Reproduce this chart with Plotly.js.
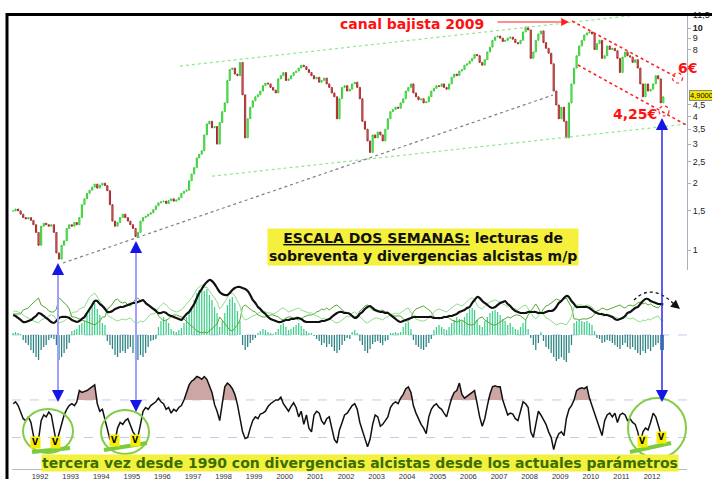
<!DOCTYPE html>
<html><head><meta charset="utf-8">
<script src="https://cdn.plot.ly/plotly-3.0.1.min.js"></script>
<style>html,body{margin:0;padding:0;background:#fff}#chart{width:712px;height:479px}</style>
</head><body><div id="chart"></div>
<script>
// ---- data (monthly, starting Feb 1991) ----
const startYear = 1991, startMonth = 2;
const closePrice = [
 1.50,1.53,1.50,1.45,1.40,1.38,1.40,1.36,1.30,1.20,1.05,
 1.28,1.32,1.30,1.28,1.30,1.20,0.97,0.91,1.05,1.10,1.25,1.30,
 1.28,1.33,1.30,1.40,1.60,1.70,1.80,1.86,1.92,1.98,1.90,1.96,
 2.00,1.95,1.85,1.60,1.35,1.28,1.33,1.40,1.45,1.40,1.35,1.30,
 1.25,1.15,1.20,1.35,1.40,1.42,1.45,1.47,1.52,1.58,1.63,1.65,
 1.66,1.62,1.67,1.70,1.66,1.68,1.72,1.80,1.84,1.86,2.05,2.20,
 2.35,2.60,2.70,2.80,3.30,3.70,3.80,3.55,3.60,3.00,3.75,4.20,
 4.60,5.80,6.50,6.60,6.20,6.10,7.00,5.00,3.20,3.90,4.40,4.70,
 4.90,5.00,5.20,5.50,5.65,5.60,5.40,5.25,5.10,5.90,6.10,6.30,
 5.80,5.90,6.10,6.30,6.40,6.60,6.80,6.70,6.50,6.30,6.10,5.90,
 6.00,5.70,5.80,5.95,5.60,5.40,5.10,4.90,3.90,4.80,5.40,5.50,
 5.20,5.30,5.60,5.70,5.40,4.80,3.80,3.50,3.10,2.75,3.30,3.20,
 3.40,3.30,3.10,3.50,3.90,4.20,4.30,4.40,4.35,4.60,4.80,5.20,
 5.40,5.60,5.10,4.90,4.75,4.80,4.60,4.65,4.90,5.20,5.35,5.50,
 5.45,5.60,5.40,5.30,5.60,6.00,6.20,6.10,6.40,6.50,6.80,6.90,
 7.10,7.30,7.60,7.50,7.00,6.80,7.20,7.80,8.20,8.80,9.10,9.20,
 9.00,8.70,8.80,9.00,9.10,8.90,8.60,8.50,8.80,9.60,10.10,9.80,
 7.30,7.80,8.80,9.40,9.70,8.60,8.10,7.70,6.90,5.20,4.50,3.90,
 4.40,3.80,3.20,4.60,5.60,6.60,7.50,8.30,8.80,9.30,9.50,9.60,
 9.40,8.00,8.50,8.80,7.30,7.50,8.30,8.00,8.10,7.90,7.30,6.30,
 7.40,7.80,7.50,7.40,7.00,7.20,6.60,5.60,4.90,5.60,5.20,5.30,
 5.60,6.10,5.90,4.60,4.90
];
const adx = [
 20,19,17,15,13,13,14,15,17,19,22,
 21,19,17,15,13,12,14,17,18,18,18,17,
 15,14,13,14,16,18,22,26,30,34,34,31,
 29,26,23,23,24,26,27,28,28,29,30,31,
 32,32,33,34,35,32,30,28,26,24,22,22,
 23,22,20,19,18,17,16,15,18,21,23,27,
 31,37,42,46,50,53,55,54,51,47,43,41,
 40,40,42,45,47,48,48,47,46,44,40,35,
 32,28,26,23,21,18,16,15,14,13,13,14,
 15,15,16,16,17,17,16,14,13,13,13,13,
 13,13,14,14,15,16,18,20,22,23,23,22,
 22,21,19,17,18,21,23,26,28,29,27,25,
 24,23,23,22,22,20,18,16,14,13,14,15,
 16,17,18,18,18,18,18,18,18,18,17,17,
 17,17,18,18,19,19,20,21,23,24,25,27,
 28,32,35,38,37,34,32,30,28,27,28,30,
 32,33,34,31,29,26,24,23,22,22,22,23,
 23,23,23,22,22,22,23,24,24,25,28,32,
 34,37,39,38,34,31,28,28,28,28,28,27,
 25,23,22,21,21,20,20,19,18,16,15,16,
 17,19,22,23,25,27,28,31,34,36,36,34,
 33,32,31,31,31
];
const diPlus = [
 23,24,23,22,20,18,17,15,14,13,12,
 15,16,17,19,20,19,16,12,13,14,16,18,
 22,23,23,26,27,28,33,38,40,42,38,34,
 30,28,20,18,17,15,14,15,16,15,16,17,
 14,12,12,14,13,15,18,21,21,22,27,30,
 32,30,28,25,24,23,24,25,28,31,33,37,
 41,46,48,50,47,48,44,41,37,33,26,29,
 33,38,41,42,39,34,29,18,15,16,18,19,
 20,22,23,24,23,22,22,21,22,24,26,27,
 25,23,24,25,26,27,25,24,23,22,22,20,
 19,18,16,17,15,16,15,13,12,13,15,17,
 19,18,22,23,21,18,16,13,12,14,16,17,
 17,16,15,17,18,21,21,22,21,22,24,26,
 27,23,18,16,15,14,14,15,17,19,23,25,
 26,25,24,23,25,27,29,31,30,29,31,33,
 36,37,36,30,27,26,29,31,33,34,35,34,
 33,31,30,28,29,27,26,25,27,29,30,26,
 21,18,16,19,24,20,17,16,14,12,10,11,
 12,11,10,14,18,28,30,30,30,29,30,29,
 28,25,21,21,19,19,20,20,19,18,17,16,
 18,19,17,16,17,15,14,13,15,14,16,15,
 17,18,19,15,14
];
const diMinus = [
 21,21,21,21,25,26,27,30,32,35,37,
 30,28,27,24,23,23,26,37,35,32,30,26,
 18,18,17,16,15,14,13,12,11,10,12,14,
 18,18,26,28,31,35,36,33,32,33,30,29,
 32,36,37,34,35,33,30,27,26,26,19,16,
 14,15,16,19,20,20,19,18,16,13,11,9,
 6,4,3,2,3,2,4,6,9,11,18,15,
 11,8,5,4,7,10,15,28,30,28,26,24,
 23,20,19,18,18,19,20,20,19,18,16,15,
 17,18,18,17,16,15,16,18,19,20,20,21,
 23,24,26,25,27,25,27,29,30,28,25,23,
 22,22,19,18,19,24,26,29,30,28,25,24,
 23,24,25,23,23,19,19,19,19,19,16,14,
 14,17,23,26,27,28,29,27,25,23,18,17,
 16,17,18,18,17,15,14,13,14,15,13,11,
 10,10,11,15,17,18,15,13,11,10,10,11,
 13,15,16,18,17,19,20,20,19,17,15,20,
 24,28,31,27,21,26,29,30,32,34,36,35,
 34,36,37,32,28,16,16,15,16,16,16,17,
 18,21,24,25,27,26,25,26,27,28,29,30,
 28,27,29,30,29,30,32,33,31,32,30,31,
 29,28,27,30,29
];
const histogram = [
 2,3,2,1,-5,-8,-10,-15,-18,-22,-25,
 -15,-12,-10,-5,-3,-4,-10,-25,-22,-18,-14,-8,
 4,5,6,10,12,14,20,26,29,32,26,20,
 12,10,-6,-10,-14,-20,-22,-18,-16,-18,-14,-12,
 -18,-24,-25,-20,-22,-18,-12,-6,-5,-4,8,14,
 18,15,12,6,4,3,5,7,12,18,22,28,
 35,42,45,48,44,46,40,35,28,22,8,14,
 22,30,36,38,32,24,14,-10,-15,-12,-8,-5,
 -3,2,4,6,5,3,2,1,3,6,10,12,
 8,5,6,8,10,12,9,6,4,2,2,-1,
 -4,-6,-10,-8,-12,-9,-12,-16,-18,-15,-10,-6,
 -3,-4,3,5,2,-6,-10,-16,-18,-14,-9,-7,
 -6,-8,-10,-6,-5,2,2,3,2,3,8,12,
 13,6,-5,-10,-12,-14,-15,-12,-8,-4,5,8,
 10,8,6,5,8,12,15,18,16,14,18,22,
 26,27,25,15,10,8,14,18,22,24,25,23,
 20,16,14,10,12,8,6,5,8,12,15,6,
 -3,-10,-15,-8,3,-6,-12,-14,-18,-22,-26,-24,
 -22,-25,-27,-18,-10,12,14,15,14,13,14,12,
 10,4,-3,-4,-8,-7,-5,-6,-8,-10,-12,-14,
 -10,-8,-12,-14,-12,-15,-18,-20,-16,-18,-14,-16,
 -12,-10,-8,-15,-15
];
const oscillator = [
 66,68,64,58,50,48,52,46,32,22,28,
 48,54,52,57,54,38,24,34,44,54,60,64,
 66,64,68,80,78,79,80,82,84,86,66,58,
 60,48,40,28,26,26,40,46,44,48,50,44,
 36,32,31,44,58,62,60,64,66,68,72,68,
 66,60,62,56,60,58,62,64,70,78,86,90,
 92,95,94,92,95,92,84,78,65,58,48,66,
 84,88,86,82,76,65,50,36,29,30,40,48,
 52,50,55,56,58,63,66,68,70,70,73,66,
 62,58,63,67,62,52,58,44,54,40,36,54,
 58,56,48,44,50,52,40,28,24,38,46,54,
 56,60,64,66,60,46,38,28,20,28,44,54,
 52,42,44,48,52,62,66,68,66,72,76,82,
 84,78,64,56,50,44,40,34,52,60,64,66,
 62,60,56,52,62,72,78,80,88,76,72,74,
 76,78,80,66,52,42,50,64,76,84,85,84,
 84,70,62,54,56,55,50,48,58,68,66,62,
 36,30,44,58,54,48,44,36,30,17,28,34,
 36,32,50,60,64,70,80,82,83,82,84,72,
 64,56,48,42,32,48,54,56,52,56,46,54,
 56,54,48,50,46,44,36,24,36,40,38,46,
 56,52,42,34,31
];
const oscUpper = 70, oscLower = 30;
const priceTickVals = [1,1.5,2,2.5,3,3.5,4,4.5,8,9,10,11.5];
const priceTickText = ['1','1,5','2','2,5','3','3,5','4','4,5','8','9','<b>10</b>','11,5'];
const yearTicks = ['1992','1993','1994','1995','1996','1997','1998','1999','2000','2001','2002',
                   '2003','2004','2005','2006','2007','2008','2009','2010','2011','2012'];
const lastPriceLabel = '4,9000';
// trend lines [date, price]
const greenUpperX = ['1996-07-29','2011-10-19'], greenUpperY = [6.74, 11.56];
const greenLowerX = ['1997-08-15','2013-02-10'], greenLowerY = [2.15, 3.69];
const grayLineX = ['1992-10-02','2008-10-07'], grayLineY = [0.874, 4.99];
const redUpperX = ['2009-05-22','2012-11-06'], redUpperY = [10.75, 5.95];
const redLowerX = ['2009-07-31','2013-02-10'], redLowerY = [6.81, 3.66];

// ---- derived ----
const dates = closePrice.map((_, i) => {
  const m = startMonth - 1 + i;
  const y = startYear + Math.floor(m / 12);
  return y + '-' + String(m % 12 + 1).padStart(2, '0') + '-15';
});
const openPrice = closePrice.map((c, i) => i ? closePrice[i - 1] : c);
const highPrice = closePrice.map((c, i) => Math.max(c, openPrice[i]));
const lowPrice = closePrice.map((c, i) => Math.min(c, openPrice[i]));

const fx = p => (p - 12) / 675;
const fy = p => (469 - p) / 456;

const traces = [];
traces.push({type:'candlestick', x:dates, open:openPrice, high:highPrice, low:lowPrice, close:closePrice,
  xaxis:'x', yaxis:'y', whiskerwidth:0, hoverinfo:'skip',
  increasing:{line:{color:'#3ccf3c', width:1}, fillcolor:'#8fe68f'},
  decreasing:{line:{color:'#a82a2a', width:1}, fillcolor:'#d8a0a0'}});
function tl(x, y, color, dash, w){ traces.push({type:'scatter', mode:'lines', x:x, y:y, yaxis:'y', hoverinfo:'skip', line:{color:color, dash:dash, width:w}}); }
tl(greenUpperX, greenUpperY, '#8ee88e', 'dot', 1.2);
tl(greenLowerX, greenLowerY, '#8ee88e', 'dot', 1.2);
tl(grayLineX, grayLineY, '#808080', 'dot', 1.2);
tl(redUpperX, redUpperY, '#ff2222', 'dot', 1.6);
tl(redLowerX, redLowerY, '#ff2222', 'dot', 1.6);

traces.push({type:'bar', x:dates, y:histogram, yaxis:'y2', hoverinfo:'skip', width:15*86400000,
  marker:{color:histogram.map(v => v >= 0 ? '#3fcf8a' : '#2b8383'), line:{width:0}}});
traces.push({type:'scatter', mode:'lines', x:dates, y:diMinus, yaxis:'y2', hoverinfo:'skip', line:{color:'#55a832', width:1}});
traces.push({type:'scatter', mode:'lines', x:dates, y:diPlus, yaxis:'y2', hoverinfo:'skip', line:{color:'#8fdc8f', width:1}});
traces.push({type:'scatter', mode:'lines', x:dates, y:adx, yaxis:'y2', hoverinfo:'skip', line:{color:'#111', width:2.2, shape:'spline', smoothing:0.6}});

traces.push({type:'scatter', mode:'lines', x:dates, y:dates.map(() => oscUpper), yaxis:'y3', hoverinfo:'skip', line:{width:0, color:'rgba(0,0,0,0)'}});
traces.push({type:'scatter', mode:'lines', x:dates, y:oscillator.map(v => Math.max(v, oscUpper)), yaxis:'y3', hoverinfo:'skip', fill:'tonexty', fillcolor:'#cca5a5', line:{width:0, color:'rgba(0,0,0,0)'}});
traces.push({type:'scatter', mode:'lines', x:dates, y:oscillator, yaxis:'y3', hoverinfo:'skip', line:{color:'#111', width:1.5}});

const shapes = [
  {type:'line', xref:'paper', yref:'y2', x0:0, x1:1, y0:0, y1:0, layer:'below', line:{color:'#c3c8f0', width:1, dash:'dash'}},
  {type:'line', xref:'paper', yref:'y3', x0:0, x1:1, y0:oscUpper, y1:oscUpper, layer:'below', line:{color:'#c3c8f0', width:1, dash:'dash'}},
  {type:'line', xref:'paper', yref:'y3', x0:0, x1:1, y0:oscLower, y1:oscLower, layer:'below', line:{color:'#c3c8f0', width:1, dash:'dash'}},
  {type:'line', xref:'paper', yref:'paper', x0:fx(7), x1:fx(7), y0:fy(485), y1:fy(13), line:{color:'#000', width:3}},
  {type:'line', xref:'paper', yref:'paper', x0:fx(6), x1:fx(715), y0:fy(14.5), y1:fy(14.5), line:{color:'#000', width:3}},
  {type:'circle', xref:'paper', yref:'paper', x0:fx(23), x1:fx(73), y0:fy(453), y1:fy(409), line:{color:'#84cc46', width:2}},
  {type:'circle', xref:'paper', yref:'paper', x0:fx(101), x1:fx(149), y0:fy(454), y1:fy(410), line:{color:'#84cc46', width:2}},
  {type:'circle', xref:'paper', yref:'paper', x0:fx(628), x1:fx(686), y0:fy(458), y1:fy(398), line:{color:'#84cc46', width:2}},
  {type:'line', xref:'paper', yref:'paper', x0:fx(32), x1:fx(70), y0:fy(452), y1:fy(448), line:{color:'#7ccb3e', width:4}},
  {type:'line', xref:'paper', yref:'paper', x0:fx(104), x1:fx(147), y0:fy(450), y1:fy(443), line:{color:'#7ccb3e', width:4}},
  {type:'line', xref:'paper', yref:'paper', x0:fx(630), x1:fx(671), y0:fy(452), y1:fy(443), line:{color:'#7ccb3e', width:4}},
  {type:'circle', xref:'paper', yref:'paper', x0:fx(672.5), x1:fx(682.5), y0:fy(83), y1:fy(73), line:{color:'#ff2222', width:1.2, dash:'dot'}},
  {type:'circle', xref:'paper', yref:'paper', x0:fx(659), x1:fx(669), y0:fy(116), y1:fy(106), line:{color:'#ff2222', width:1.2, dash:'dot'}},
  {type:'path', xref:'paper', yref:'paper', path:'M '+fx(634)+','+fy(300)+' Q '+fx(652)+','+fy(282)+' '+fx(675)+','+fy(305), line:{color:'#111', width:1.3, dash:'dot'}}
];

const F = 'DejaVu Sans, Verdana, sans-serif';
const ann = [];
function txt(x, y, text, size, color, extra){
  ann.push(Object.assign({xref:'paper', yref:'paper', x:fx(x), y:fy(y), xanchor:'center', yanchor:'middle', text:text, showarrow:false, font:{family:F, size:size, color:color}}, extra || {}));
}
txt(412, 24, '<b>canal bajista 2009</b>', 14, '#ff1010');
txt(687, 68, '<b>6€</b>', 14, '#ff1010');
txt(635, 114, '<b>4,25€</b>', 14, '#ff1010');
ann.push({xref:'paper', yref:'paper', x:fx(689), y:fy(96), xanchor:'left', yanchor:'middle', text:lastPriceLabel, showarrow:false, font:{family:'Liberation Sans, Arial', size:7.5, color:'#000'}, bgcolor:'#f2e600', bordercolor:'#888', borderwidth:1, borderpad:0});
txt(423, 247.5, '<b><u>ESCALA DOS SEMANAS:</u> lecturas de<br>sobreventa y divergencias alcistas m/p</b>', 14, '#111', {bgcolor:'#f5f03c', borderpad:1});
txt(360, 462.5, '<b>tercera vez desde 1990 con divergencias alcistas desde los actuales parámetros</b>', 14, '#3a6e00', {bgcolor:'#f3f13e', borderpad:0});
// arrows
ann.push({xref:'paper', yref:'paper', x:fx(569), y:fy(22), ax:-73, ay:0, text:'', showarrow:true, arrowhead:2, arrowsize:1.3, arrowwidth:1.2, arrowcolor:'#ff2020'});
function vline(x, yTop, yBot, color, w){ ann.push({xref:'paper', yref:'paper', x:fx(x), y:fy(yBot), ax:0, ay:-(yBot-yTop), text:'', showarrow:true, arrowhead:0, arrowwidth:w, arrowcolor:color}); }
function head(x, y, dir){ ann.push({xref:'paper', yref:'paper', x:fx(x), y:fy(y), ax:0, ay:dir*10, text:'', showarrow:true, arrowhead:2, arrowsize:1.1, arrowwidth:2.2, arrowcolor:'#1515e6'}); }
vline(58, 268, 398, '#a0a0ff', 2); head(58, 263, 1); head(58, 402, -1);
vline(136, 246, 408, '#a0a0ff', 2); head(136, 241, 1); head(136, 412, -1);
vline(662, 123, 398, '#2a2af2', 1.5); head(662, 118, 1); head(662, 402, -1);
ann.push({xref:'paper', yref:'paper', x:fx(680), y:fy(309), ax:-6, ay:-5, text:'', showarrow:true, arrowhead:2, arrowsize:1.2, arrowwidth:1.5, arrowcolor:'#111'});
// V markers
[[35,442],[56,442],[114,440],[135,440],[642,441],[661,437]].forEach(p => {
  txt(p[0], p[1], '<b>V</b>', 8, '#000', {bgcolor:'#f5ee00', borderpad:1});
});

const layout = {
  width:712, height:479, margin:{l:12, r:25, t:13, b:10}, paper_bgcolor:'#fff', plot_bgcolor:'#fff',
  showlegend:false, hovermode:false,
  xaxis:{type:'date', range:['1991-02-01','2013-02-22'], rangeslider:{visible:false}, anchor:'y3',
    showgrid:false, zeroline:false, showline:true, linecolor:'#b4bcc8', linewidth:1,
    ticks:'', tickmode:'array', tickvals:yearTicks.map(y => y + '-01-01'), ticktext:yearTicks,
    tickfont:{family:'Liberation Sans, Arial', size:7.5, color:'#333'}},
  yaxis:{type:'log', domain:[0.4364, 0.9978], range:[-0.0901, 1.0631], side:'right', anchor:'x',
    showgrid:false, zeroline:false, showline:true, linecolor:'#a8b0bc', ticks:'outside', ticklen:3, tickcolor:'#a8b0bc',
    tickvals:priceTickVals, ticktext:priceTickText, tickfont:{family:'Liberation Sans, Arial', size:9, color:'#222'}},
  yaxis2:{domain:[0.2281, 0.4189], range:[-30, 57], visible:false, anchor:'x'},
  yaxis3:{domain:[0, 0.2127], range:[-3.6, 99.8], visible:false, anchor:'x'},
  bargap:0.3,
  shapes:shapes, annotations:ann
};
Plotly.newPlot('chart', traces, layout, {staticPlot:true, displayModeBar:false});
</script></body></html>
